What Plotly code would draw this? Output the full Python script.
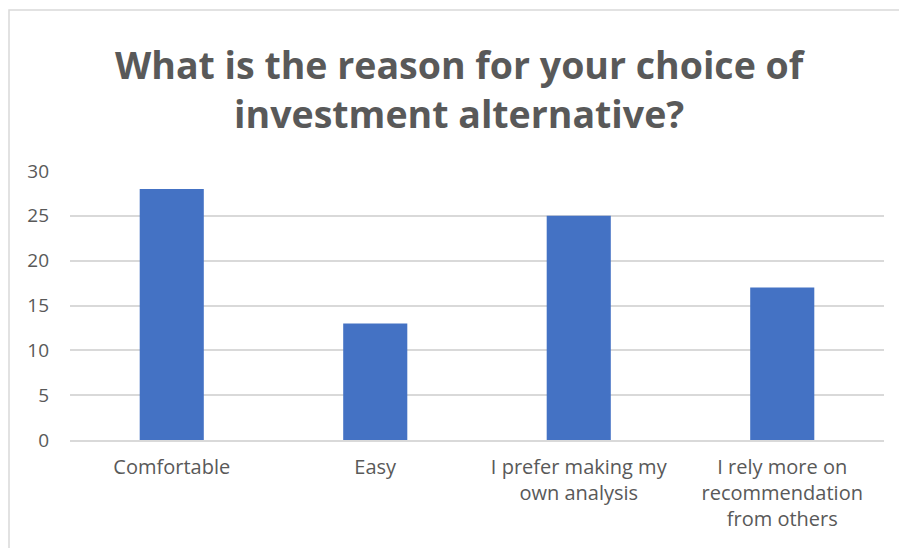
import plotly.graph_objects as go

# Survey responses: reason for choice of investment alternative
categories = [
    "Comfortable",
    "Easy",
    "I prefer making my<br>own analysis",
    "I rely more on<br>recommendation<br>from others",
]
counts = [28, 13, 25, 17]
y_ticks = [0, 5, 10, 15, 20, 25, 30]

title_text = "What is the reason for your choice of<br>investment alternative?"

GREY_TEXT = "#595959"
GRID = "#d9d9d9"
BAR = "#4472c4"

# plot-area geometry in pixels
W, H = 899, 548
L, R, T, B = 70, 15, 171, 108
pw, ph = W - L - R, H - T - B

def px_x(p):
    return (p - L) / pw

def px_y(p):
    return (H - B - p) / ph

fig = go.Figure(
    go.Bar(
        x=categories,
        y=counts,
        marker=dict(color=BAR, line=dict(width=0)),
        width=0.315,
        hoverinfo="x+y",
    )
)

fig.update_layout(
    width=W,
    height=H,
    margin=dict(l=L, r=R, t=T, b=B),
    paper_bgcolor="white",
    plot_bgcolor="white",
    showlegend=False,
    font=dict(family="Open Sans", color=GREY_TEXT, size=19),
    xaxis=dict(
        showgrid=False,
        showline=True,
        linecolor=GRID,
        linewidth=1.5,
        ticks="",
        tickfont=dict(size=20, color=GREY_TEXT),
        ticklabelstandoff=8,
        range=[-0.5, 3.5],
    ),
    yaxis=dict(
        range=[0, 30],
        tickvals=y_ticks,
        showgrid=True,
        gridcolor=GRID,
        gridwidth=1.5,
        zeroline=False,
        showline=False,
        ticks="",
        tickfont=dict(size=19, color=GREY_TEXT),
        ticklabelstandoff=20,
    ),
    annotations=[
        dict(
            text=title_text,
            xref="paper",
            yref="paper",
            x=px_x(460),
            y=px_y(89),
            xanchor="center",
            yanchor="middle",
            showarrow=False,
            font=dict(family="Open Sans", size=37.5, color=GREY_TEXT, weight="bold"),
        )
    ],
    shapes=[
        # chart frame
        dict(
            type="rect",
            xref="paper",
            yref="paper",
            x0=px_x(9),
            y0=px_y(600),
            x1=px_x(960),
            y1=px_y(10),
            line=dict(color=GRID, width=1.5),
            fillcolor="rgba(0,0,0,0)",
            layer="below",
        )
    ],
)

fig.write_html("out.html")
